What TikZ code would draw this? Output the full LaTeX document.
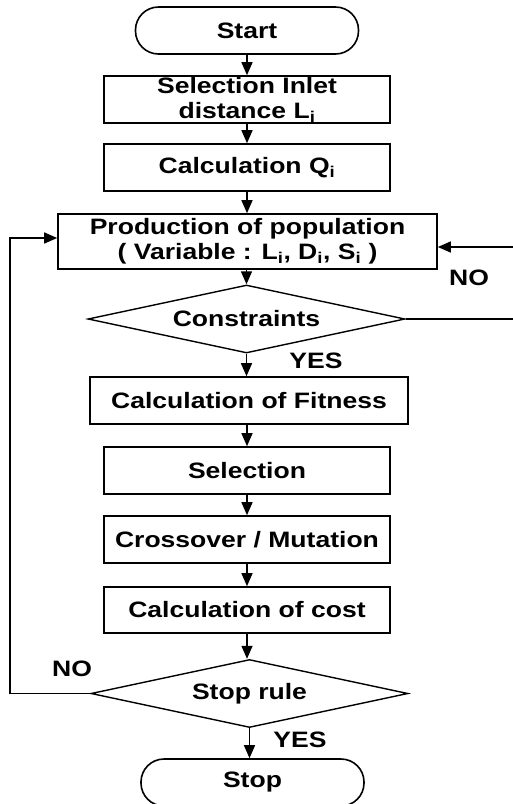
\documentclass[tikz,border=0pt]{standalone}
\usepackage{fontspec}
\setmainfont{Liberation Sans}[FakeStretch=1.19]
\usetikzlibrary{shapes.geometric,arrows.meta}
\begin{document}
\begin{tikzpicture}[x=1pt,y=-1pt,
  every node/.style={font=\bfseries\fontsize{22.3}{25}\selectfont, align=center, text=black},
  boxnode/.style={draw, line width=1.6pt, inner sep=0pt},
  termnode/.style={draw, line width=1.6pt, rounded corners=23pt, inner sep=0pt, minimum width=223pt, minimum height=47pt},
  decnode/.style={draw, line width=1.4pt, shape=diamond, shape aspect=4.66, inner sep=0pt, minimum width=317pt, minimum height=68pt},
  flow/.style={line width=1.4pt, -{Triangle[width=11pt,length=13pt]}},
  lbl/.style={inner sep=0pt}
]
\useasboundingbox (0,0) rectangle (513,804);

\node[termnode] (start) at (247,30.5) {Start};
\node[boxnode, minimum width=286pt, minimum height=47pt] (sel1) at (247,99.5) {Selection Inlet\\distance L\textsubscript{i}};
\node[boxnode, minimum width=286pt, minimum height=47pt] (calcq) at (247,167.5) {Calculation Q\textsubscript{i}};
\node[boxnode, minimum width=379pt, minimum height=55pt] (prod) at (247.5,241.5) {Production of population\\( Variable : L\textsubscript{i}, D\textsubscript{i}, S\textsubscript{i} )};
\node[decnode] (cons) at (246.5,319) {Constraints};
\node[boxnode, minimum width=318pt, minimum height=47pt] (fit) at (249,400.5) {Calculation of Fitness};
\node[boxnode, minimum width=286pt, minimum height=47pt] (sel2) at (247,470.5) {Selection};
\node[boxnode, minimum width=286pt, minimum height=47pt] (cross) at (247,539.5) {Crossover / Mutation};
\node[boxnode, minimum width=286pt, minimum height=46pt] (cost) at (247,610) {Calculation of cost};
\node[decnode] (stoprule) at (249.5,693.5) {Stop rule};
\node[termnode] (stop) at (252.5,782.5) {Stop};

\node[lbl] (no1) at (469,278) {NO};
\node[lbl] (yes1) at (316,361) {YES};
\node[lbl] (no2) at (72,669) {NO};
\node[lbl] (yes2) at (300,740) {YES};

\coordinate (rin) at (516,247);
\coordinate (lin) at (10,238);

\draw[flow] (start.south) -- (sel1.north);
\draw[flow] (sel1.south) -- (calcq.north);
\draw[flow] (calcq.south) -- (calcq.south |- prod.north);
\draw[flow] (prod.south -| cons.north) -- (cons.north);
\draw[flow] (cons.south) -- (cons.south |- fit.north);
\draw[flow] (fit.south -| sel2.north) -- (sel2.north);
\draw[flow] (sel2.south) -- (cross.north);
\draw[flow] (cross.south) -- (cost.north);
\draw[flow] (cost.south) -- (cost.south |- stoprule.north);
\draw[flow] (stoprule.south) -- (stoprule.south |- stop.north);
\draw[flow] (cons.east) -| (rin) -- (rin -| prod.east);
\draw[flow] (stoprule.west) -| (lin) -- (lin -| prod.west);
\end{tikzpicture}
\end{document}
